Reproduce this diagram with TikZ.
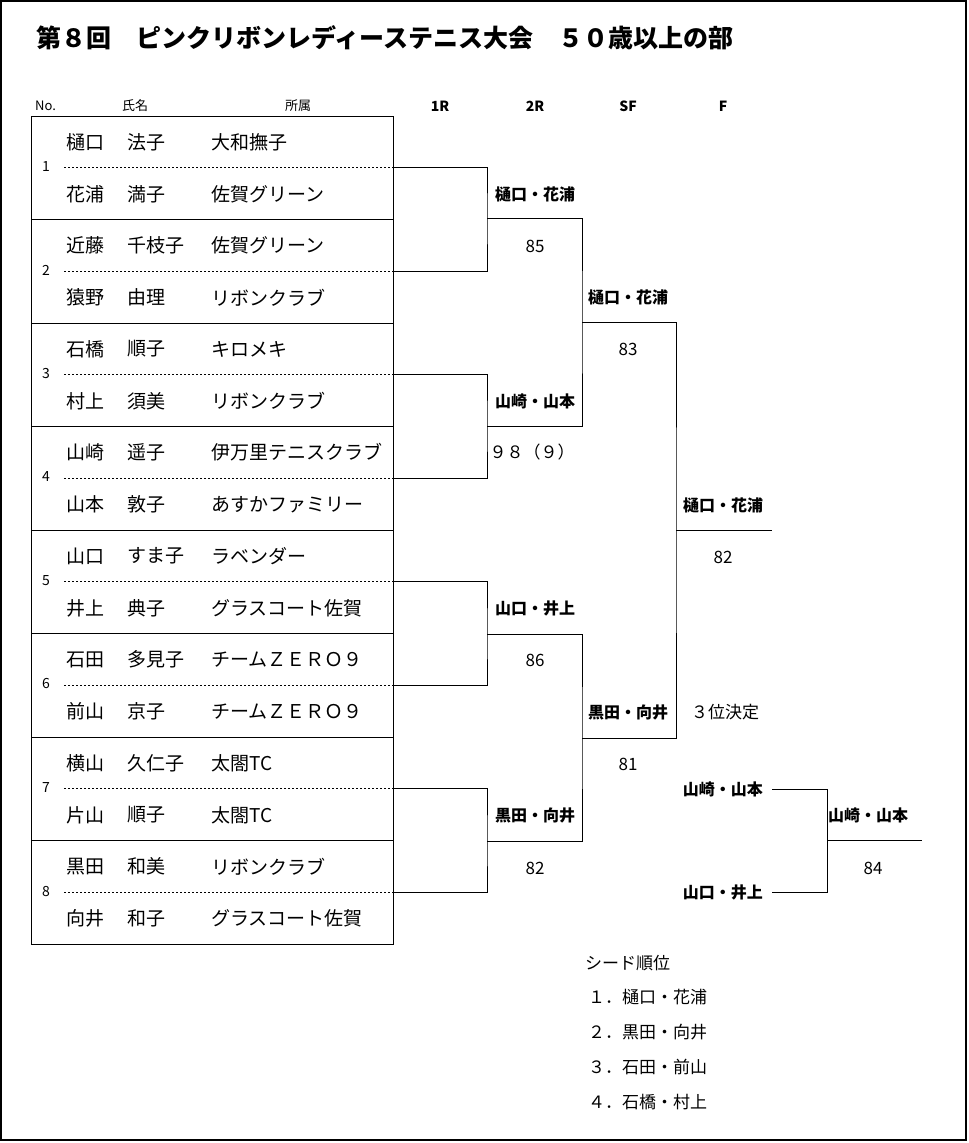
\documentclass[tikz,border=0pt]{standalone}
\usepackage{fontspec}
\setmainfont{Noto Sans CJK JP}
\tikzset{
  nm/.style={anchor=west, inner sep=0pt, font=\fontsize{19}{19}\selectfont},
  lab/.style={inner sep=0pt, font=\fontsize{16}{16}\selectfont\bfseries},
  sc/.style={inner sep=0pt, font=\fontsize{17}{17}\selectfont},
  hdr/.style={inner sep=0pt, font=\fontsize{13}{13}\selectfont},
  rnd/.style={inner sep=0pt, font=\fontsize{14}{14}\selectfont\bfseries},
  num/.style={inner sep=0pt, font=\fontsize{14}{14}\selectfont},
  seed/.style={anchor=west, inner sep=0pt, font=\fontsize{17}{17}\selectfont},
  ln/.style={line width=1pt},
  dots/.style={line width=0.9pt, dash pattern=on 2pt off 2pt},
}
\begin{document}
\begin{tikzpicture}[x=1pt,y=-1pt]
\useasboundingbox (0,0) rectangle (969,1143);
\draw[line width=2pt] (1,1) rectangle (966,1140);
% title
\node[anchor=west, inner sep=0pt, font=\fontsize{25}{25}\selectfont\bfseries] (title) at (36,38) {第８回　ピンクリボンレディーステニス大会　５０歳以上の部};
% header
\node[hdr, anchor=west] (hno) at (35,106) {No.};
\node[hdr] (hname) at (135,106) {氏名};
\node[hdr] (haff) at (298,106) {所属};
\node[rnd] (h1) at (440,106) {1R};
\node[rnd] (h2) at (535,106) {2R};
\node[rnd] (h3) at (628,106) {SF};
\node[rnd] (h4) at (723,106) {F};
% table
\draw[ln] (31,116) rectangle (393,944);
\foreach \k/\fa/\ga/\aa/\fb/\gb/\ab in {
  1/樋口/法子/大和撫子/花浦/満子/佐賀グリーン,
  2/近藤/千枝子/佐賀グリーン/猿野/由理/リボンクラブ,
  3/石橋/順子/キロメキ/村上/須美/リボンクラブ,
  4/山崎/遥子/伊万里テニスクラブ/山本/敦子/あすかファミリー,
  5/山口/すま子/ラベンダー/井上/典子/グラスコート佐賀,
  6/石田/多見子/チームＺＥＲＯ９/前山/京子/チームＺＥＲＯ９,
  7/横山/久仁子/太閤TC/片山/順子/太閤TC,
  8/黒田/和美/リボンクラブ/向井/和子/グラスコート佐賀}{
  \pgfmathsetmacro{\t}{116+103.5*(\k-1)}
  \ifnum\k>1 \draw[ln] (31,\t) -- (393,\t); \fi
  \coordinate (l\k) at (64,\t+51.5);
  \coordinate (r\k) at (393,\t+51.5);
  \draw[dots] (l\k) -- (r\k);
  \node[num] (no\k) at (46,\t+50.5) {\k};
  \node[nm] (fa\k) at (66,\t+26) {\fa};
  \node[nm] (ga\k) at (127,\t+26) {\ga};
  \node[nm] (aa\k) at (211,\t+26) {\aa};
  \node[nm] (fb\k) at (66,\t+78) {\fb};
  \node[nm] (gb\k) at (127,\t+78) {\gb};
  \node[nm] (ab\k) at (211,\t+78) {\ab};
}
% bracket coordinates
\coordinate (q1) at (487,218);
\coordinate (q2) at (487,426);
\coordinate (q3) at (487,634);
\coordinate (q4) at (487,841);
\coordinate (s1) at (582,322);
\coordinate (s2) at (582,738);
\coordinate (f1) at (676,530);
\coordinate (fe) at (772,530);
\draw[ln] (r1) -| (q1) |- (r2);
\draw[ln] (r3) -| (q2) |- (r4);
\draw[ln] (r5) -| (q3) |- (r6);
\draw[ln] (r7) -| (q4) |- (r8);
\draw[ln] (q1) -| (s1) |- (q2);
\draw[ln] (q3) -| (s2) |- (q4);
\draw[ln] (s1) -| (f1) |- (s2);
\draw[ln] (f1) -- (fe);
% labels
\node[lab] (w1) at (535,194) {樋口・花浦};
\node[sc]  (c1) at (535,246) {85};
\node[lab] (w2) at (535,401) {山崎・山本};
\node[sc]  (c2) at (532,452) {９８（９）};
\node[lab] (w3) at (535,608) {山口・井上};
\node[sc]  (c3) at (535,660) {86};
\node[lab] (w4) at (535,815) {黒田・向井};
\node[sc]  (c4) at (535,868) {82};
\node[lab] (w5) at (628,297) {樋口・花浦};
\node[sc]  (c5) at (628,349) {83};
\node[lab] (w6) at (628,712) {黒田・向井};
\node[sc]  (c6) at (628,764) {81};
\node[lab] (w7) at (723,505) {樋口・花浦};
\node[sc]  (c7) at (723,557) {82};
% third place
\node[sc] (third) at (725,712) {３位決定};
\node[lab, anchor=east] (tA) at (763,789) {山崎・山本};
\node[lab, anchor=east] (tB) at (763,892) {山口・井上};
\coordinate (tAe) at (772,789);
\coordinate (tBe) at (772,892);
\coordinate (tc) at (827,840);
\coordinate (te) at (922,840);
\draw[ln] (tAe) -| (tc) |- (tBe);
\draw[ln] (tc) -- (te);
\node[lab] (w8) at (868,815) {山崎・山本};
\node[sc]  (c8) at (873,868) {84};
% seeds
\node[seed] (sd) at (585,963) {シード順位};
\node[seed] (sd1) at (588,997) {１．樋口・花浦};
\node[seed] (sd2) at (588,1032) {２．黒田・向井};
\node[seed] (sd3) at (588,1067) {３．石田・前山};
\node[seed] (sd4) at (588,1102) {４．石橋・村上};
\end{tikzpicture}
\end{document}
